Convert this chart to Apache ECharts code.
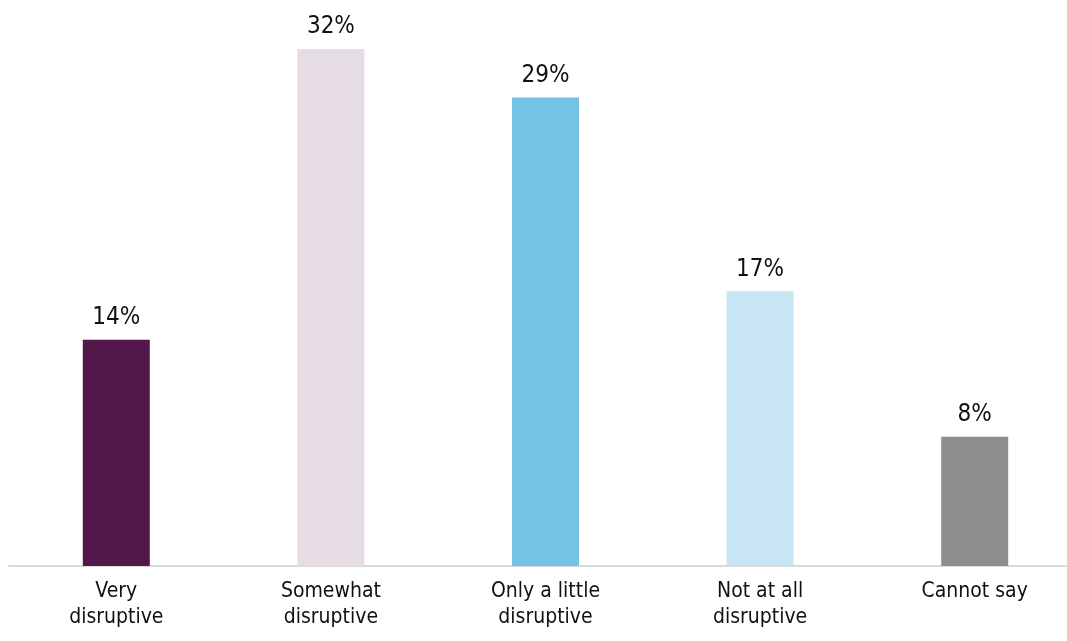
<!DOCTYPE html>
<html>
<head>
<meta charset="utf-8">
<script src="https://cdn.jsdelivr.net/npm/echarts@6/dist/echarts.min.js"></script>
<style>
  html, body { margin: 0; padding: 0; background: #fff; overflow: hidden; }
  #chart { width: 1082px; height: 641px; }
</style>
</head>
<body>
<div id="chart"></div>
<script>
var categories = ['Very\ndisruptive', 'Somewhat\ndisruptive', 'Only a little\ndisruptive', 'Not at all\ndisruptive', 'Cannot say'];
var values = [14, 32, 29, 17, 8];
var barColors = ['#54174a', '#e6dce4', '#74c3e4', '#c7e5f2', '#8e8e8e'];

var fontFam = '"DejaVu Sans Condensed", "Liberation Sans Narrow", sans-serif';

var chart = echarts.init(document.getElementById('chart'));
chart.setOption({
  animation: false,
  grid: { left: 9, width: 1073, top: 49, height: 517 },
  xAxis: {
    type: 'category',
    data: categories,
    axisLine: { lineStyle: { color: '#d9d9d9', width: 2 } },
    axisTick: { show: false },
    axisLabel: {
      color: '#111',
      fontSize: 21,
      fontFamily: fontFam,
      lineHeight: 26,
      margin: 13,
      interval: 0
    }
  },
  yAxis: {
    type: 'value',
    min: 0,
    max: 32,
    show: false,
    splitLine: { show: false }
  },
  series: [{
    type: 'bar',
    barWidth: 67,
    data: values.map(function (v, i) {
      return { value: v, itemStyle: { color: barColors[i] } };
    }),
    label: {
      show: true,
      position: 'top',
      distance: 10,
      color: '#111',
      fontSize: 24,
      fontFamily: fontFam,
      formatter: '{c}%'
    }
  }]
});
</script>
</body>
</html>
